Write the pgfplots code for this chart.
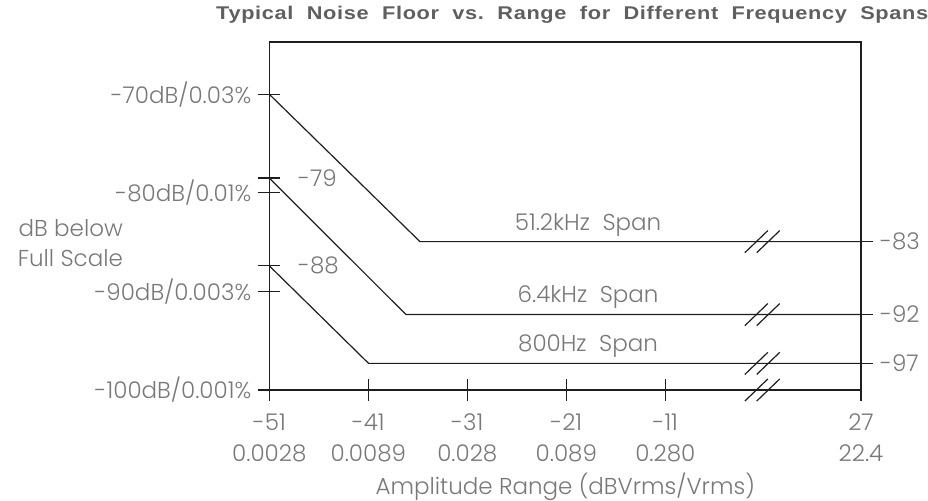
\documentclass[border=0pt]{standalone}
\usepackage{pgfplots}
\pgfplotsset{compat=1.18}
\usepackage{fontspec}
\setmainfont{Liberation Sans}
\newfontfamily\lite{Poppins Light}
\newfontfamily\ttlfont{Liberation Sans}[LetterSpace=3]
\definecolor{txt}{RGB}{120,120,120}
\definecolor{ttl}{RGB}{95,95,95}
\definecolor{ink}{RGB}{30,30,30}

\begin{document}
\begin{tikzpicture}
  \begin{axis}[
    name=ax,
    scale only axis,
    width=295.85pt,
    height=174pt,
    xmin=-51, xmax=8.77,
    ymin=-100, ymax=-64.7,
    clip=false,
    axis line style={ink, line width=0.6pt},
    every tick/.style={ink, line width=0.6pt},
    tick align=center,
    major tick length=11pt,
    xtick pos=bottom,
    ytick pos=left,
    xtick={-51,-41,-31,-21,-11,8.77},
    xticklabels={{-51\\0.0028},{-41\\0.0089},{-31\\0.028},{-21\\0.089},{-11\\0.280},{27\\22.4}},
    ytick={-100,-90,-80,-70},
    yticklabels={-100dB/0.001\%,-90dB/0.003\%,-80dB/0.01\%,-70dB/0.03\%},
    extra y ticks={-87.4,-78.5},
    extra y tick labels={},
    tick label style={txt, font=\lite\fontsize{11.5}{15}\selectfont},
    xticklabel style={align=center, yshift=-3pt, font=\lite\fontsize{11.5}{15.5}\selectfont},
    unbounded coords=jump,
  ]
    % noise floor per span
    \addplot[ink, line width=0.6pt] coordinates {(-51,-70) (-35.78,-84.95) (8.77,-84.95)};
    \addplot[ink, line width=0.6pt] coordinates {(-51,-78.5) (-37.19,-92.35) (8.77,-92.35)};
    \addplot[ink, line width=0.6pt] coordinates {(-51,-87.4) (-40.97,-97.3) (8.77,-97.3)};
    % axis break marks
    \addplot[ink, line width=0.6pt] coordinates {
      (-2.96,-86.07) (-0.64,-83.83) (0,nan) (-1.76,-86.07) (0.56,-83.83) (0,nan)
      (-2.96,-93.47) (-0.64,-91.23) (0,nan) (-1.76,-93.47) (0.56,-91.23) (0,nan)
      (-2.96,-98.42) (-0.64,-96.18) (0,nan) (-1.76,-98.42) (0.56,-96.18) (0,nan)
      (-2.96,-101.12) (-0.64,-98.88) (0,nan) (-1.76,-101.12) (0.56,-98.88)
    };
    \begin{scope}[every node/.style={txt, font=\lite\fontsize{11.5}{15}\selectfont}]
      \node at (axis cs:-18.8,-83.26) {51.2kHz\ \ Span};
      \node at (axis cs:-18.8,-90.6) {6.4kHz\ \ Span};
      \node at (axis cs:-18.8,-95.5) {800Hz\ \ Span};
      \node[anchor=west] at (axis cs:-48.8,-78.5) {-79};
      \node[anchor=west] at (axis cs:-48.8,-87.4) {-88};
      \node[align=right] at (axis cs:-71.1,-85.1) {dB below\\Full Scale};
      \node at (axis cs:-21.1,-109.84) {Amplitude Range (dBVrms/Vrms)};
    \end{scope}
    \node[anchor=east, ttl, inner sep=0pt, font=\ttlfont\bfseries\fontsize{9.2}{11}\selectfont]
      at (axis cs:15.6,-61.96) {\resizebox{356pt}{\height}{Typical\ \ Noise\ \ Floor\ \ vs.\ \ Range\ \ for\ \ Different\ \ Frequency\ \ Spans}};
  \end{axis}
  \begin{axis}[
    at={(ax.south west)},
    anchor=south west,
    scale only axis,
    width=295.85pt,
    height=174pt,
    xmin=-51, xmax=8.77,
    ymin=-100, ymax=-64.7,
    axis x line=none,
    axis y line*=right,
    axis line style={ink, line width=0.6pt},
    every tick/.style={ink, line width=0.6pt},
    tick align=outside,
    major tick length=6pt,
    ytick={-97.3,-92.35,-84.95},
    yticklabels={-97,-92,-83},
    tick label style={txt, font=\lite\fontsize{11.5}{15}\selectfont},
  ]
    \addplot[draw=none] coordinates {(-51,-100) (8.77,-64.7)};
  \end{axis}
  \pgfresetboundingbox
  \path[use as bounding box] ([shift={(-134.65pt,-55pt)}]ax.south west) rectangle ([shift={(329.35pt,195pt)}]ax.south west);
\end{tikzpicture}
\end{document}
